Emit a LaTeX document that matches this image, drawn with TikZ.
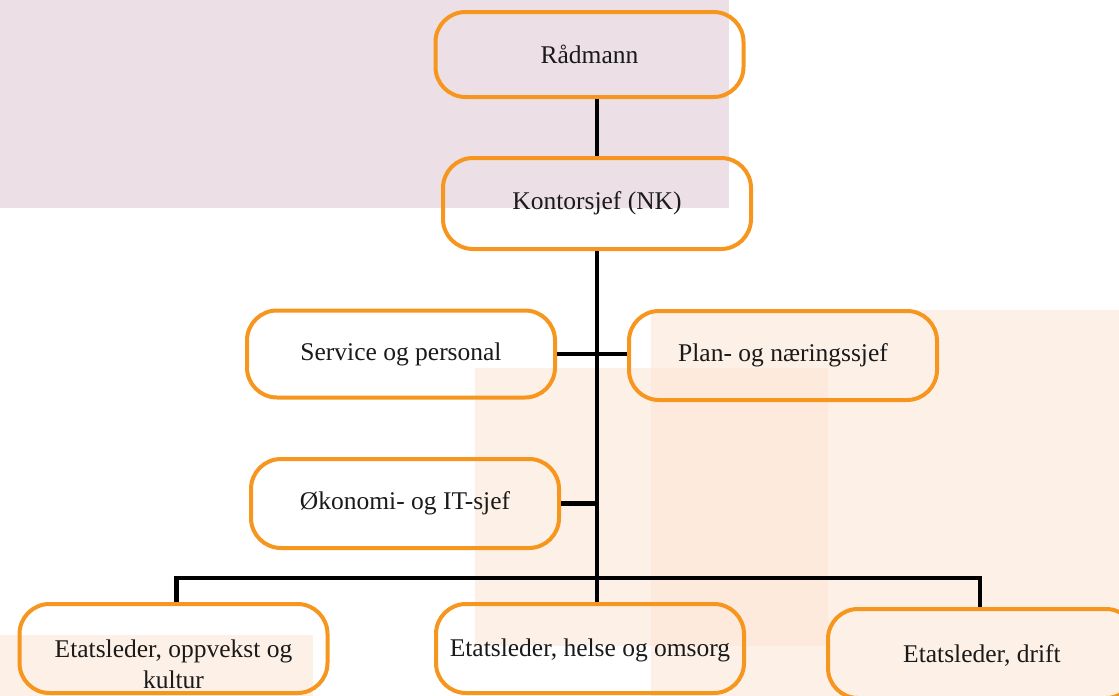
\documentclass[tikz,border=0pt]{standalone}
\usepackage{fontspec}
\setmainfont{Liberation Serif}
\definecolor{orng}{HTML}{F6961E}
\definecolor{mauve}{HTML}{ECE0E6}
\definecolor{peach}{HTML}{FCE5D3}
\definecolor{ink}{HTML}{1A1A1A}
\begin{document}
\begin{tikzpicture}[x=1pt,y=-1pt,
  box/.style={draw=orng, line width=4pt, rounded corners=30pt,
    minimum width=308pt, minimum height=89pt, inner sep=0pt,
    align=center, text=ink, font=\fontsize{25.5}{31}\selectfont},
  lbl/.style={align=center, text=ink, font=\fontsize{25.5}{31}\selectfont, inner sep=0pt},
  bgpeach/.style={fill=peach, fill opacity=0.55, draw=none},
  conn/.style={draw=black, line width=4.5pt, line join=miter}]
\clip (0,0) rectangle (1119,696);
% background shapes
\fill[mauve] (0,0) rectangle (729,208);
\path[bgpeach] (475,368) rectangle (828,646);
\path[bgpeach] (651,310) rectangle (1119,696);
\path[bgpeach] (0,635) rectangle (313,696);
% nodes
\node[box, minimum height=85pt] (rad) at (589.5,54.5) {R\r{a}dmann};
\node[box, minimum height=91pt] (kon) at (597,203.5) {Kontorsjef (NK)};
\node[box, minimum height=87pt] (ser) at (401,354) {Service og personal};
\node[box] (pla) at (783,355.5) {Plan- og n\ae ringssjef};
\node[box] (oko) at (405,503.5) {\O konomi- og IT-sjef};
\node[box, label={[lbl, yshift=-16pt]center:{Etatsleder, oppvekst og\\kultur}}] (opp) at (173.5,648.5) {};
\node[box, label={[lbl, yshift=-2pt]center:{Etatsleder, helse og omsorg}}] (hel) at (590,648.5) {};
\node[box, label={[lbl, yshift=-2pt]center:{Etatsleder, drift}}] (dri) at (982,653.5) {};
% connectors
\coordinate (bar) at (597,578);
\draw[conn] (kon.north |- rad.south) -- (kon.north);
\draw[conn] (kon.south) -- (kon.south |- hel.north);
\draw[conn] (ser.east) -- (ser.east -| pla.west);
\draw[conn] (oko.east) -- (oko.east -| kon.south);
\draw[conn] ([xshift=3pt]opp.north) -- ([xshift=3pt]opp.north |- bar) -- ([xshift=-2pt]dri.north |- bar) -- ([xshift=-2pt]dri.north);
\end{tikzpicture}
\end{document}
